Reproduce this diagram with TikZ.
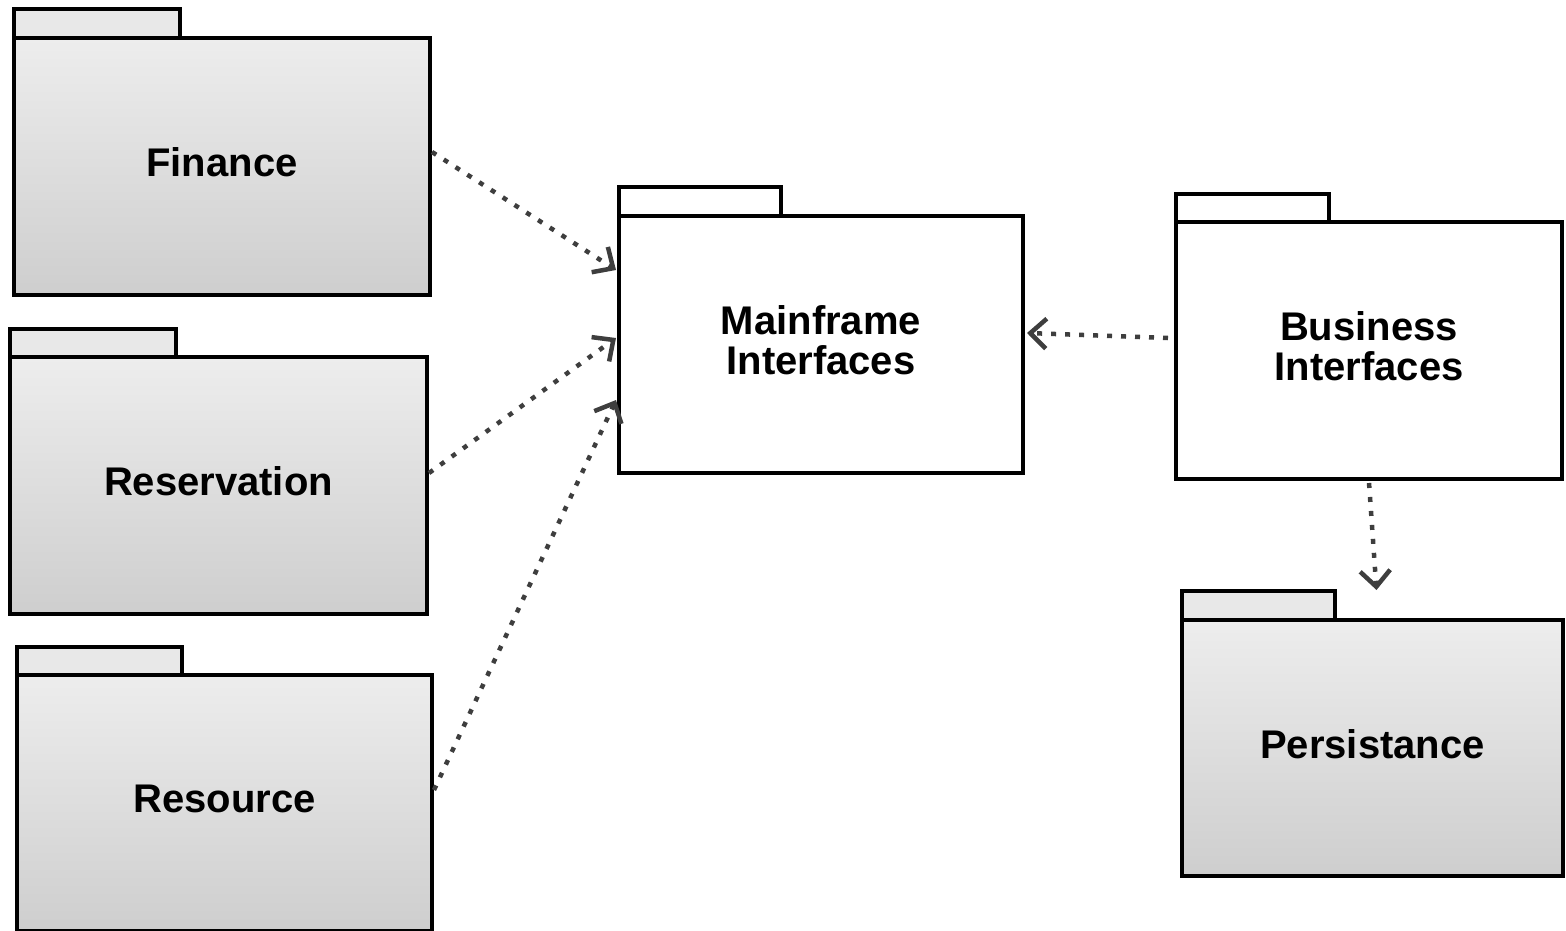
\documentclass[tikz,border=0pt]{standalone}
\usepackage{fontspec}
\setmainfont{Liberation Sans}
\usetikzlibrary{arrows.meta}
\definecolor{pkgtop}{RGB}{237,237,237}
\definecolor{pkgbot}{RGB}{206,206,206}
\definecolor{tabfill}{RGB}{232,232,232}
\definecolor{depgray}{RGB}{62,62,62}
\tikzset{
  pkgtext/.style={align=center, yshift=4pt, inner sep=0pt,
    font=\fontsize{40}{40}\selectfont\bfseries},
  pkgbody/.style={draw=black, line width=4pt, inner sep=0pt, outer sep=0pt},
  greybody/.style={pkgbody, top color=pkgtop, bottom color=pkgbot},
  whitebody/.style={pkgbody, fill=white},
  greytab/.style={draw=black, line width=4pt, fill=tabfill},
  whitetab/.style={draw=black, line width=4pt, fill=white},
  dep/.style={draw=depgray, line width=4.5pt, dash pattern=on 5pt off 9pt,
    -{Straight Barb[length=16pt,width=30pt,line width=4.5pt]}},
}
\begin{document}
\begin{tikzpicture}[x=1pt,y=-1pt]
\useasboundingbox (0,0) rectangle (1566,931);

% Finance
\draw[greytab] (14,9) rectangle (180,38);
\node[greybody, minimum width=416pt, minimum height=257pt,
  label={[pkgtext]center:Finance}] (fin) at (222,166.5) {};

% Reservation
\draw[greytab] (10,329) rectangle (176,357);
\node[greybody, minimum width=417pt, minimum height=257pt,
  label={[pkgtext]center:Reservation}] (res) at (218.5,485.5) {};

% Resource
\draw[greytab] (17,647) rectangle (182,675);
\node[greybody, minimum width=415pt, minimum height=256pt,
  label={[pkgtext]center:Resource}] (rsc) at (224.5,803) {};

% Mainframe Interfaces
\draw[whitetab] (619,187) rectangle (781,216);
\node[whitebody, minimum width=404pt, minimum height=257pt,
  label={[pkgtext]center:{Mainframe\\Interfaces}}] (mf) at (821,344.5) {};

% Business Interfaces
\draw[whitetab] (1176,194) rectangle (1329,222);
\node[whitebody, minimum width=386pt, minimum height=257pt,
  label={[pkgtext]center:{Business\\Interfaces}}] (bus) at (1369,350.5) {};

% Persistance
\draw[greytab] (1182,591) rectangle (1335,620);
\node[greybody, minimum width=381pt, minimum height=256pt,
  label={[pkgtext]center:Persistance}] (per) at (1372.5,748) {};

% Dependencies
\draw[dep] ([xshift=2pt,yshift=14.5pt]fin.east) -- ([xshift=-3pt,yshift=74.5pt]mf.west);
\draw[dep] ([xshift=2pt,yshift=12.5pt]res.east) -- ([xshift=-3pt,yshift=6.5pt]mf.west);
\draw[dep] ([xshift=2pt,yshift=13pt]rsc.east) -- ([xshift=-3pt,yshift=-55.5pt]mf.west);
\draw[dep] ([xshift=-8pt,yshift=12.5pt]bus.west) -- ([xshift=4pt,yshift=11.5pt]mf.east);
\draw[dep] ([yshift=-4pt]bus.south) -- ([xshift=4pt,yshift=30pt]per.north);
\end{tikzpicture}
\end{document}
